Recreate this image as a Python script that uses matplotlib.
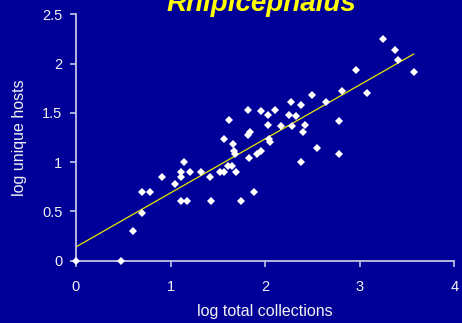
import matplotlib
matplotlib.use("Agg")
import matplotlib.pyplot as plt
import numpy as np

plt.rcParams['font.family'] = ['Liberation Sans', 'DejaVu Sans']

title = "Rhipicephalus"
x_label = "log total collections"
y_label = "log unique hosts"

log_collections = [0.000, 0.476, 0.603, 0.698, 0.698, 0.779, 0.906, 1.043, 1.113, 1.113,
                   1.147, 1.202, 1.321, 1.113, 1.177, 1.416, 1.430, 1.522, 1.568, 1.607,
                   1.654, 1.691, 1.741, 1.887, 1.832, 1.670, 1.686, 1.916, 1.959, 1.665,
                   1.568, 1.818, 1.839, 2.040, 2.048, 1.614, 1.818, 1.959, 2.030, 2.104,
                   2.030, 2.167, 2.252, 2.322, 2.278, 2.382, 2.287, 2.424, 2.396, 2.375,
                   2.544, 2.498, 2.640, 2.812, 2.783, 2.783, 3.079, 2.960, 3.242, 3.372,
                   3.404, 3.570]
log_hosts = [0.000, 0.000, 0.301, 0.481, 0.700, 0.700, 0.849, 0.778, 0.903, 0.849,
             0.998, 0.903, 0.903, 0.606, 0.606, 0.849, 0.606, 0.903, 0.903, 0.956,
             0.956, 0.903, 0.606, 0.700, 1.042, 1.116, 1.083, 1.078, 1.116, 1.181,
             1.232, 1.280, 1.306, 1.232, 1.206, 1.431, 1.532, 1.519, 1.478, 1.532,
             1.380, 1.364, 1.478, 1.465, 1.613, 1.583, 1.364, 1.380, 1.304, 1.001,
             1.147, 1.684, 1.613, 1.725, 1.414, 1.081, 1.701, 1.938, 2.252, 2.138,
             2.039, 1.915]

fit_intercept = 0.14
fit_slope = 0.548

x_ticks = [0, 1, 2, 3, 4]
y_ticks = [0, 0.5, 1, 1.5, 2, 2.5]
y_tick_labels = ["0", "0.5", "1", "1.5", "2", "2.5"]

bg = '#000099'
spine_col = '#C4C4E4'
text_col = '#F2F2F2'

fig = plt.figure(figsize=(4.62, 3.23), dpi=100, facecolor=bg)
ax = fig.add_axes([76/462, 1-260.7/323, (454.3-76)/462, (260.7-14.3)/323])
ax.set_facecolor(bg)

xs = np.array(log_collections)
fit_x = np.array([0, xs.max()])
ax.plot(fit_x, fit_intercept + fit_slope * fit_x, color='#E8E800', lw=0.9, zorder=2)
ax.plot(log_collections, log_hosts, linestyle='none', marker='D', ms=3.6,
        mfc='white', mec='white', mew=0, zorder=5, clip_on=False)

ax.set_xlim(0, 4)
ax.set_ylim(0, 2.5)
ax.set_xticks(x_ticks)
ax.set_yticks(y_ticks)
ax.set_yticklabels(y_tick_labels)

for s in ['top', 'right']:
    ax.spines[s].set_visible(False)
for s in ['left', 'bottom']:
    ax.spines[s].set_color(spine_col)
    ax.spines[s].set_linewidth(1.3)

ax.tick_params(axis='both', colors=spine_col, labelcolor=text_col, labelsize=10.5,
               length=4.3, width=1.2, direction='out')
ax.tick_params(axis='x', pad=9.5)
ax.tick_params(axis='y', pad=5.5)

ax.set_xlabel(x_label, color=text_col, fontsize=11.5, labelpad=7)
ax.set_ylabel(y_label, color=text_col, fontsize=11.5, labelpad=11)

fig.text(261/462, 1-11/323, title, color='#FFFF00', fontsize=20, fontweight='bold',
         fontstyle='italic', ha='center', va='baseline')

fig.savefig('out.png', dpi=100, facecolor=bg)
